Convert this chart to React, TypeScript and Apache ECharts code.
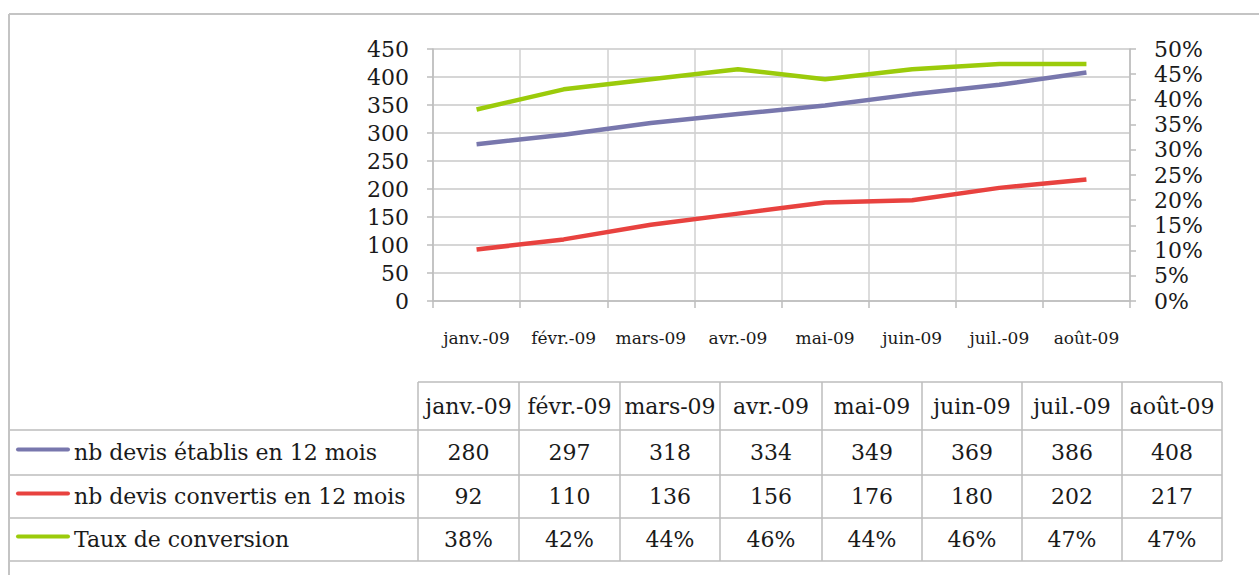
import React, { useEffect, useRef } from "react";
import * as echarts from "echarts";

const categories = ["janv.-09", "févr.-09", "mars-09", "avr.-09", "mai-09", "juin-09", "juil.-09", "août-09"];
const devisEtablis = [280, 297, 318, 334, 349, 369, 386, 408];
const devisConvertis = [92, 110, 136, 156, 176, 180, 202, 217];
const tauxConversion = [0.38, 0.42, 0.44, 0.46, 0.44, 0.46, 0.47, 0.47];
const seriesNames = ["nb devis établis en 12 mois", "nb devis convertis en 12 mois", "Taux de conversion"];
const colors = ["#7877AD", "#E8423F", "#9BCB0B"];

const W = 1259;
const H = 575;
const FONT = "DejaVu Serif";

export default function App() {
  const ref = useRef<HTMLDivElement>(null);
  useEffect(() => {
    document.body.style.margin = "0";
    const chart = echarts.init(ref.current!, undefined, { renderer: "svg" });
    const gridLeft = 433;
    const gridRight = 1130;
    const gridTop = 49;
    const gridBottom = 301;
    const gray = "#BDBDBD";

    // table geometry
    const colX = [418, 519, 620, 720, 822, 922, 1022, 1122, 1222];
    const rowY = [382, 430, 475, 518, 561];
    const tableLeft = 10;
    const graphics: any[] = [];
    // frame
    graphics.push({ type: "line", shape: { x1: 9, y1: 14, x2: W, y2: 14 }, style: { stroke: "#C4C4C4", lineWidth: 2 } });
    graphics.push({ type: "line", shape: { x1: 9, y1: 14, x2: 9, y2: H }, style: { stroke: "#C4C4C4", lineWidth: 2 } });
    // horizontal table lines
    rowY.forEach((y, i) => {
      graphics.push({
        type: "line",
        shape: { x1: i === 0 ? colX[0] : tableLeft, y1: y, x2: colX[colX.length - 1], y2: y },
        style: { stroke: gray, lineWidth: 1.5 },
      });
    });
    colX.forEach((x) => {
      graphics.push({ type: "line", shape: { x1: x, y1: rowY[0], x2: x, y2: rowY[4] }, style: { stroke: gray, lineWidth: 1.5 } });
    });
    // header
    categories.forEach((c, i) => {
      graphics.push({
        type: "text",
        x: (colX[i] + colX[i + 1]) / 2,
        y: (rowY[0] + rowY[1]) / 2,
        style: { text: c, font: `22px '${FONT}'`, fill: "#1a1a1a", align: "center", verticalAlign: "middle" },
      });
    });
    const rows = [
      devisEtablis.map((v) => String(v)),
      devisConvertis.map((v) => String(v)),
      tauxConversion.map((v) => Math.round(v * 100) + "%"),
    ];
    rows.forEach((r, ri) => {
      const cy = (rowY[ri + 1] + rowY[ri + 2]) / 2;
      graphics.push({ type: "line", shape: { x1: 18, y1: cy - 3, x2: 68, y2: cy - 3 }, style: { stroke: colors[ri], lineWidth: 4, lineCap: "round" } });
      graphics.push({
        type: "text",
        x: 74,
        y: cy,
        style: { text: seriesNames[ri], font: `22px '${FONT}'`, fill: "#1a1a1a", align: "left", verticalAlign: "middle" },
      });
      r.forEach((t, i) => {
        graphics.push({
          type: "text",
          x: (colX[i] + colX[i + 1]) / 2,
          y: cy,
          style: { text: t, font: `22px '${FONT}'`, fill: "#1a1a1a", align: "center", verticalAlign: "middle" },
        });
      });
    });

    const axisCommon = {
      axisLine: { show: true, lineStyle: { color: gray, width: 1.5 } },
      axisTick: { show: true, length: 6, lineStyle: { color: gray, width: 1.5 } },
    };

    chart.setOption({
      animation: false,
      backgroundColor: "#fff",
      textStyle: { fontFamily: FONT },
      grid: { left: gridLeft, right: W - gridRight, top: gridTop, bottom: H - gridBottom, containLabel: false },
      xAxis: {
        type: "category",
        data: categories,
        boundaryGap: true,
        ...axisCommon,
        axisTick: { show: true, length: 7, alignWithLabel: false, lineStyle: { color: gray, width: 1.5 } },
        splitLine: { show: true, lineStyle: { color: "#D0D0D0", width: 1.5 } },
        axisLabel: { margin: 28, fontSize: 17, color: "#1a1a1a", fontFamily: FONT, interval: 0 },
      },
      yAxis: [
        {
          type: "value",
          min: 0,
          max: 450,
          interval: 50,
          ...axisCommon,
          splitLine: { show: true, lineStyle: { color: "#C8C8C8", width: 1.5 } },
          axisLabel: { margin: 24, fontSize: 22, color: "#1a1a1a", fontFamily: FONT },
        },
        {
          type: "value",
          min: 0,
          max: 0.5,
          interval: 0.05,
          position: "right",
          ...axisCommon,
          splitLine: { show: false },
          axisLabel: {
            margin: 24,
            fontSize: 22,
            color: "#1a1a1a",
            fontFamily: FONT,
            formatter: (v: number) => Math.round(v * 100) + "%",
          },
        },
      ],
      series: [
        { name: seriesNames[0], type: "line", data: devisEtablis, yAxisIndex: 0, showSymbol: false, lineStyle: { color: colors[0], width: 4.5 }, itemStyle: { color: colors[0] } },
        { name: seriesNames[1], type: "line", data: devisConvertis, yAxisIndex: 0, showSymbol: false, lineStyle: { color: colors[1], width: 4.5 }, itemStyle: { color: colors[1] } },
        { name: seriesNames[2], type: "line", data: tauxConversion, yAxisIndex: 1, showSymbol: false, lineStyle: { color: colors[2], width: 4.5 }, itemStyle: { color: colors[2] } },
      ],
      graphic: graphics,
    });
    return () => chart.dispose();
  }, []);
  return <div ref={ref} style={{ width: W, height: H }} />;
}
